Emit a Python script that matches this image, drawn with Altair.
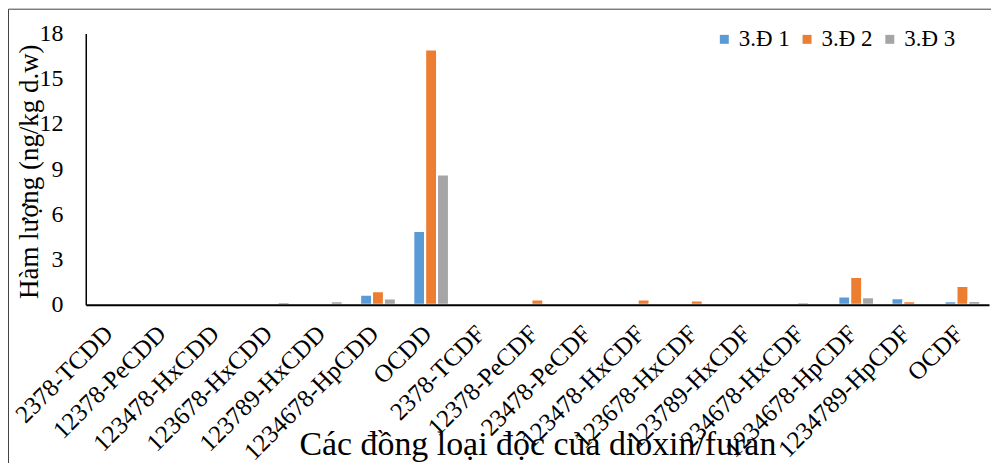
import altair as alt
import pandas as pd

categories = ["2378-TCDD", "12378-PeCDD", "123478-HxCDD", "123678-HxCDD", "123789-HxCDD",
              "1234678-HpCDD", "OCDD", "2378-TCDF", "12378-PeCDF", "23478-PeCDF",
              "123478-HxCDF", "123678-HxCDF", "123789-HxCDF", "234678-HxCDF",
              "1234678-HpCDF", "1234789-HpCDF", "OCDF"]
series_names = ["3.Đ 1", "3.Đ 2", "3.Đ 3"]
d1 = [0.01, 0.02, 0.02, 0.02, 0.02, 0.66, 4.9, 0.02, 0.02, 0.1, 0.1, 0.1, 0.04, 0.03, 0.55, 0.43, 0.23]
d2 = [0.02, 0.04, 0.03, 0.03, 0.03, 0.9, 16.94, 0.03, 0.35, 0.13, 0.35, 0.28, 0.13, 0.17, 1.84, 0.23, 1.25]
d3 = [0.01, 0.02, 0.1, 0.18, 0.23, 0.42, 8.65, 0.01, 0.02, 0.08, 0.08, 0.02, 0.02, 0.02, 0.5, 0.01, 0.25]
y_ticks = [0, 3, 6, 9, 12, 15, 18]
colors = ["#5B9BD5", "#ED7D31", "#A5A5A5"]

rows = []
for name, vals in zip(series_names, [d1, d2, d3]):
    for c, v in zip(categories, vals):
        rows.append({"cat": c, "series": name, "value": v})
df = pd.DataFrame(rows)

FONT = "Liberation Serif"

bars = alt.Chart(df).mark_bar(stroke="white", strokeWidth=2).encode(
    x=alt.X("cat:N", sort=categories,
            scale=alt.Scale(paddingInner=0.33, paddingOuter=0.165),
            axis=alt.Axis(title="Các đồng loại độc của dioxin/furan", labelAngle=-45,
                          labelFontSize=25, labelFont=FONT, labelColor="black",
                          ticks=False, tickSize=0, labelPadding=16, labelOffset=-12,
                          domainColor="black", domainWidth=2, zindex=1,
                          titleFont=FONT, titleFontSize=34, titleFontWeight="normal",
                          titleColor="black", titleY=150, titleBaseline="alphabetic",
                          labelLimit=400)),
    xOffset=alt.XOffset("series:N", sort=series_names, scale=alt.Scale(paddingInner=0, paddingOuter=0)),
    y=alt.Y("value:Q", scale=alt.Scale(domain=[0, 18], nice=False),
            axis=alt.Axis(values=y_ticks, title="Hàm lượng (ng/kg d.w)", grid=False,
                          ticks=False, tickSize=0, labelPadding=23, zindex=1,
                          labelFontSize=24, labelFont=FONT, labelColor="black",
                          domainColor="black", domainWidth=1.5,
                          titleFont=FONT, titleFontSize=27, titleFontWeight="normal",
                          titleColor="black", titleX=-56, titleY=138,
                          titleAlign="center", titleBaseline="middle")),
    color=alt.Color("series:N", sort=series_names,
                    scale=alt.Scale(domain=series_names, range=colors),
                    legend=alt.Legend(title=None, orient="none", legendX=629, legendY=-6,
                                      direction="horizontal", symbolType="square",
                                      symbolSize=81, symbolStrokeWidth=0,
                                      labelFont=FONT, labelFontSize=23, labelColor="black",
                                      columnPadding=5, labelOffset=3, padding=0)),
)

frame = alt.Chart(pd.DataFrame({"a": [0]})).mark_rect(
    fill=None, stroke="#404040", strokeWidth=1
).encode(x=alt.value(-77.5), x2=alt.value(1200), y=alt.value(-24.5), y2=alt.value(800))

chart = alt.layer(bars, frame).properties(
    width=906, height=272,
    autosize=alt.AutoSizeParams(type="none"),
    padding={"left": 78, "top": 25, "right": 2, "bottom": 158},
).configure_view(stroke=None)

chart.save("out.html", embed_options={"renderer": "svg", "actions": False})
